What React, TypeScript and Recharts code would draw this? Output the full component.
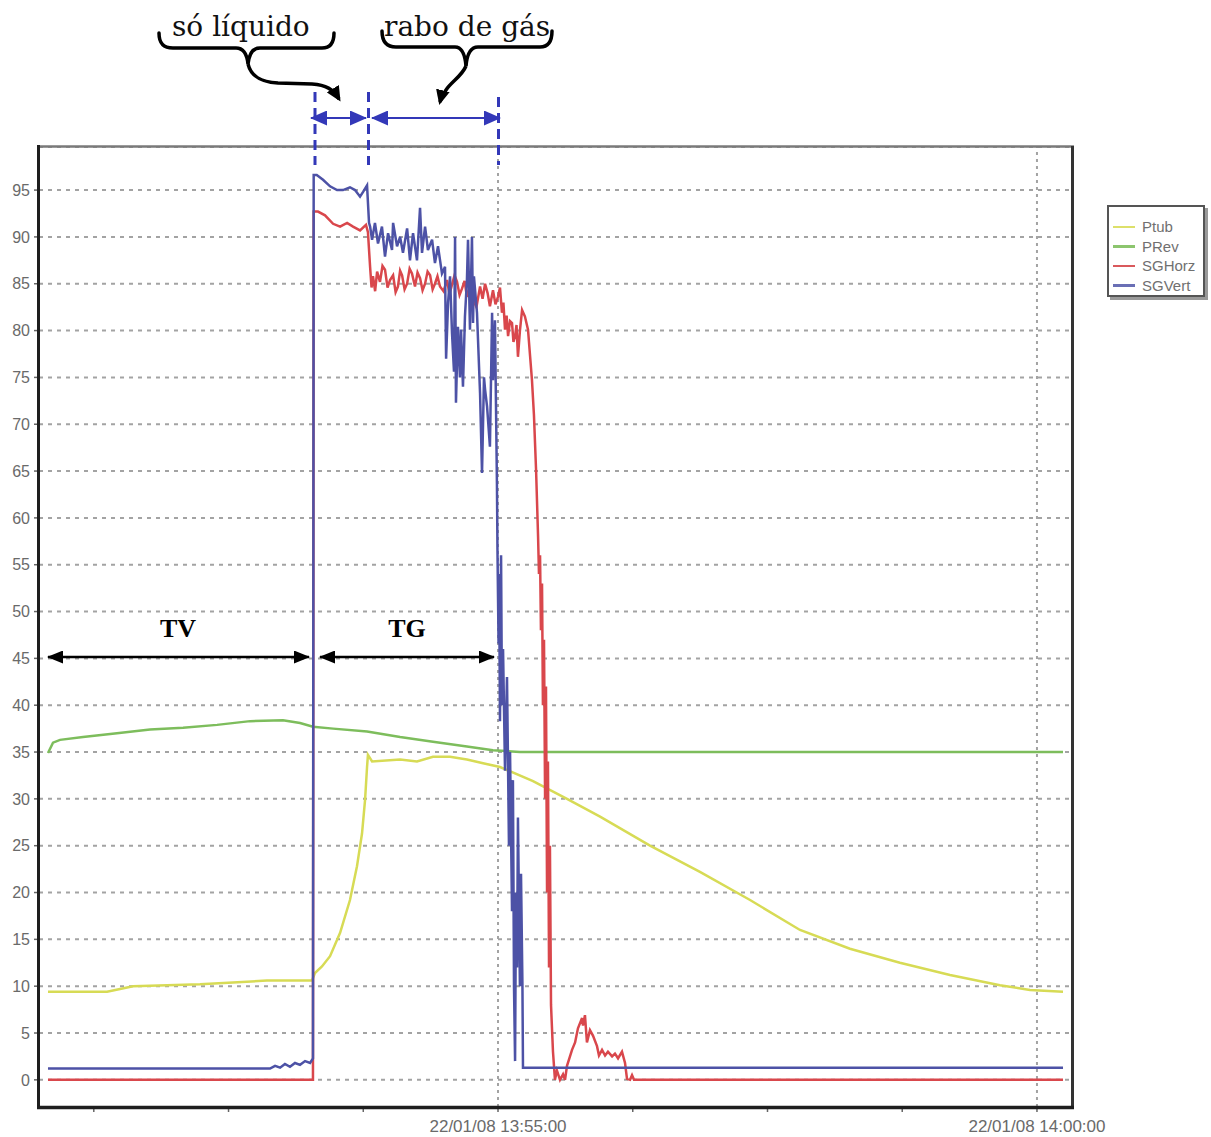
import React from "react";
import { CartesianGrid, Legend, Line, LineChart, ReferenceLine, XAxis, YAxis } from "recharts";

// time in seconds relative to 22/01/08 13:55:00
const ptub: [number, number][] = [
  [-250.5, 9.4], [-217.6, 9.4], [-210.4, 9.7], [-203.2, 10.0], [-184.2, 10.1], [-165.9, 10.2],
  [-147.5, 10.4], [-128.6, 10.6], [-103.5, 10.6], [-101.9, 11.4], [-98, 12.1], [-93.5, 13.2],
  [-87.9, 15.7], [-82.4, 19.2], [-78.5, 22.8], [-75.7, 26.3], [-74, 29.9], [-72.9, 33.4],
  [-72.4, 34.7], [-70.1, 34.0], [-54.5, 34.2], [-45.1, 34.0], [-36.2, 34.5], [-26.7, 34.5],
  [-17.3, 34.2], [-8.3, 33.8], [1.1, 33.4], [19.5, 31.9], [38.4, 30.0], [56.8, 28.1],
  [84.6, 25.0], [112.4, 22.2], [140.3, 19.2], [168.1, 16.0], [195.9, 14.0], [223.7, 12.5],
  [251.6, 11.2], [279.4, 10.1], [296.1, 9.6], [314.5, 9.4],
];

const prev: [number, number][] = [
  [-250.5, 34.9], [-247.7, 36.0], [-243.8, 36.3], [-231, 36.6], [-212.1, 37.0], [-193.7, 37.4],
  [-175.3, 37.6], [-156.4, 37.9], [-138, 38.3], [-119.7, 38.4], [-110.2, 38.1], [-103, 37.7],
  [-91.8, 37.5], [-72.9, 37.2], [-54.5, 36.6], [-36.2, 36.1], [-17.3, 35.6], [-2.8, 35.2],
  [12.2, 35.0], [314.5, 35.0],
];

const sgHorz: [number, number][] = [
  [-250.5, 0], [-103.0, 0], [-102.6, 92.7], [-100.2, 92.7], [-96.3, 92.3], [-91.8, 91.4],
  [-87.9, 91.1], [-84.0, 91.5], [-80.7, 91.1], [-76.8, 90.7], [-73.5, 91.3], [-72.4, 90.5],
  [-71.2, 86.8], [-70.4, 84.6], [-69.6, 85.8], [-68.4, 84.2], [-67.3, 86.3], [-65.7, 85.2],
  [-64.3, 86.9], [-62.9, 86.5], [-61.5, 84.6], [-60.1, 85.4], [-58.4, 85.9], [-57.0, 84.1],
  [-55.7, 84.7], [-54.5, 86.4], [-53.4, 85.9], [-52.0, 84.4], [-50.6, 85.0], [-49.2, 86.6],
  [-47.9, 86.1], [-46.2, 84.7], [-44.8, 86.2], [-43.4, 85.6], [-42.0, 84.3], [-40.6, 85.0],
  [-39.2, 86.3], [-37.8, 85.9], [-36.4, 84.4], [-35.1, 85.0], [-33.7, 85.8], [-32.3, 84.7],
  [-30.3, 84.2], [-28.4, 85.4], [-27.0, 83.9], [-25.6, 84.9], [-24.2, 85.9], [-22.8, 85.2],
  [-21.4, 83.8], [-20.0, 84.5], [-18.6, 85.3], [-17.3, 83.6], [-15.6, 84.8], [-13.9, 83.3],
  [-12.0, 82.5], [-10.0, 84.7], [-8.6, 83.4], [-7.2, 85.0], [-5.8, 84.0], [-4.5, 82.6],
  [-2.8, 84.3], [-1.4, 82.8], [0.0, 83.6], [1.1, 84.6], [2.2, 81.9], [3.0, 83.0],
  [3.9, 80.1], [4.8, 81.6], [5.6, 79.4], [6.7, 81.0], [7.8, 80.8], [8.6, 78.8],
  [9.5, 79.4], [10.3, 80.6], [11.1, 77.2], [12.2, 80.0], [13.4, 82.2], [15.0, 81.5],
  [16.7, 80.1], [18.9, 74.7], [20.0, 71], [21.2, 65], [22.3, 58], [22.8, 54],
  [23.4, 56], [23.9, 48], [24.5, 53], [25.0, 40], [25.6, 47], [26.2, 30],
  [26.7, 42], [27.3, 20], [27.8, 34], [28.4, 12], [28.9, 25], [29.5, 8],
  [30.6, 3], [31.7, 0], [32.8, 1.0], [34.5, 0], [36.2, 0.6], [37.3, 0],
  [38.4, 1.5], [41.2, 3.2], [42.9, 4.0], [44.5, 5.5], [46.8, 6.6], [47.3, 5.8],
  [48.4, 6.9], [49.5, 4.0], [51.2, 5.3], [52.9, 4.7], [55.1, 3.6], [56.2, 2.6],
  [57.9, 3.2], [59.6, 2.6], [61.2, 3.0], [63.5, 2.5], [65.1, 2.8], [66.8, 2.3],
  [69.0, 3.0], [70.7, 1.8], [71.8, 0.1], [73.5, 0], [74.6, 0.5], [75.7, 0], [314.5, 0],
];

const sgVert: [number, number][] = [
  [-250.5, 1.2], [-126.9, 1.2], [-124.1, 1.5], [-121.3, 1.3], [-118.6, 1.7], [-115.8, 1.4],
  [-113, 1.8], [-110.2, 1.6], [-107.4, 2.0], [-104.6, 1.8], [-103.0, 2.3], [-102.6, 96.6],
  [-100.9, 96.6], [-97.4, 96.1], [-93.5, 95.4], [-89.6, 95.0], [-86.3, 95.0], [-82.4, 95.3],
  [-79.6, 95.0], [-76.8, 94.3], [-75.1, 94.8], [-72.9, 95.5], [-71.8, 91.5], [-71.2, 91.1],
  [-70.1, 89.7], [-68.5, 91.5], [-66.8, 89.3], [-64.6, 91.1], [-62.9, 87.9], [-61.2, 90.4],
  [-59, 88.6], [-58.4, 91.5], [-56.2, 89.0], [-54.5, 90.0], [-52.9, 88.3], [-50.6, 90.9],
  [-49, 87.5], [-47.3, 90.4], [-45.1, 87.5], [-43.4, 93.1], [-42.3, 88.3], [-40.6, 91.1],
  [-39, 88.6], [-36.7, 89.7], [-35.1, 87.2], [-33.4, 89.0], [-31.2, 86.1], [-29.5, 86.8],
  [-28.9, 77.0], [-27.8, 83.0], [-26.7, 85.8], [-25.6, 79.7], [-24.5, 75.6], [-23.9, 90.0],
  [-23.4, 72.3], [-22.3, 80.4], [-21.2, 75.0], [-20.6, 80.1], [-19.5, 74.0], [-18.4, 81.5],
  [-17.3, 85.4], [-16.7, 89.7], [-15.6, 80.1], [-14.5, 90.0], [-13.9, 80.8], [-13.4, 85.8],
  [-11.7, 81.9], [-10, 73.3], [-8.9, 64.8], [-7.8, 75], [-7.2, 73.7], [-6.1, 71.9],
  [-4.5, 67.6], [-3.3, 81.9], [-2.8, 74.7], [-1.7, 81.1], [-0.6, 63.7], [-0.3, 56.6],
  [0.3, 46.6], [0.6, 54], [1.1, 38.3], [1.7, 56], [2.2, 40], [2.8, 46],
  [3.9, 33], [5, 43], [6.1, 25], [6.7, 35], [7.8, 18], [8.3, 32],
  [8.9, 10], [9.5, 2.0], [10, 20], [10.6, 12], [11.1, 28], [12.2, 10],
  [12.8, 22], [13.6, 10], [13.9, 1.3], [314.5, 1.3],
];

const seriesNames = ["Ptub", "PRev", "SGHorz", "SGVert"];
const seriesColors = ["#d7db55", "#7dbd5c", "#d9474c", "#4d52a6"];
const legendColors = ["#dde06a", "#8cc56e", "#d9595c", "#6a6fb5"];

const xTicks = [-225, -150, -75, 0, 75, 150, 225, 300];
const xTickLabels: Record<number, string> = { 0: "22/01/08 13:55:00", 300: "22/01/08 14:00:00" };
const yTicks = [0, 5, 10, 15, 20, 25, 30, 35, 40, 45, 50, 55, 60, 65, 70, 75, 80, 85, 90, 95];

const toRows = (pts: [number, number][]) => pts.map(([t, v]) => ({ t, v }));
const seriesData = [ptub, prev, sgHorz, sgVert].map(toRows);

const SANS = "'Liberation Sans', Arial, sans-serif";
const SERIF = "'DejaVu Serif', 'Liberation Serif', serif";

function LegendBox() {
  return (
    <div
      style={{
        width: 98,
        height: 92,
        border: "2px solid #555",
        boxShadow: "3px 3px 0 #9a9a9a",
        background: "#fff",
        padding: "10px 0 0 4px",
        boxSizing: "border-box",
        fontFamily: SANS,
        fontSize: 15,
        color: "#707070",
      }}
    >
      {seriesNames.map((name, i) => (
        <div key={name} style={{ display: "flex", alignItems: "center", height: 19.5 }}>
          <span style={{ display: "inline-block", width: 22, height: 2.5, background: legendColors[i], marginRight: 7 }} />
          <span style={{ lineHeight: "19px" }}>{name}</span>
        </div>
      ))}
    </div>
  );
}

function Annotations() {
  const blue = "#3338b8";
  return (
    <svg width={1211} height={1137} style={{ position: "absolute", left: 0, top: 0, pointerEvents: "none" }}>
      <defs>
        <marker id="bh" markerWidth={17} markerHeight={15} refX={16} refY={7.5} orient="auto-start-reverse" markerUnits="userSpaceOnUse">
          <path d="M0,0 L17,7.5 L0,15 z" fill={blue} />
        </marker>
        <marker id="kh" markerWidth={16} markerHeight={13} refX={15} refY={6.5} orient="auto-start-reverse" markerUnits="userSpaceOnUse">
          <path d="M0,0 L16,6.5 L0,13 z" fill="#000" />
        </marker>
        <marker id="ch" markerWidth={15} markerHeight={14} refX={12} refY={7} orient="auto" markerUnits="userSpaceOnUse">
          <path d="M0,0 L15,7 L0,14 z" fill="#000" />
        </marker>
      </defs>

      {/* frame */}
      <line x1={38} y1={146.5} x2={1074} y2={146.5} stroke="#7a7a7a" strokeWidth={2.5} />
      <line x1={1072.5} y1={146} x2={1072.5} y2={1109} stroke="#333" strokeWidth={3} />
      <line x1={38.5} y1={145} x2={38.5} y2={1109} stroke="#1e1e1e" strokeWidth={3} />
      <line x1={37} y1={1107.5} x2={1074} y2={1107.5} stroke="#1e1e1e" strokeWidth={3.5} />

      {/* dashed limits */}
      {[315, 368.5, 498.5].map((x, i) => (
        <line key={x} x1={x} y1={i === 2 ? 97 : 92} x2={x} y2={165} stroke={blue} strokeWidth={3} strokeDasharray="10 6" />
      ))}
      <line x1={311} y1={118} x2={366} y2={118} stroke={blue} strokeWidth={2} markerStart="url(#bh)" markerEnd="url(#bh)" />
      <line x1={372} y1={118} x2={500} y2={118} stroke={blue} strokeWidth={2} markerStart="url(#bh)" markerEnd="url(#bh)" />

      {/* braces */}
      <text x={172} y={36} fontFamily={SERIF} fontSize={28} fill="#111">só líquido</text>
      <text x={384} y={36} fontFamily={SERIF} fontSize={28} fill="#111">rabo de gás</text>
      <path
        d="M159,33 C159,43 163,48 173,48 L236,48 C244,48 247,54 248,64 C249,54 252,48 260,48 L322,48 C330,48 334,43 334,33"
        fill="none" stroke="#000" strokeWidth={3.5} strokeLinecap="round"
      />
      <path d="M248,64 C251,76 260,82 278,83 L312,84 C326,85 333,89 339,99" fill="none" stroke="#000" strokeWidth={3.5} markerEnd="url(#ch)" />
      <path
        d="M382,31 C382,41 386,47 396,47 L455,47 C462,47 465,54 466,66 C467,54 470,47 478,47 L540,47 C548,47 552,41 552,31"
        fill="none" stroke="#000" strokeWidth={3.5} strokeLinecap="round"
      />
      <path d="M466,66 C462,76 451,82 446,90 C443,95 441,98 440,102" fill="none" stroke="#000" strokeWidth={3.5} markerEnd="url(#ch)" />

      {/* TV / TG */}
      <line x1={48} y1={657} x2={309} y2={657} stroke="#000" strokeWidth={2.5} markerStart="url(#kh)" markerEnd="url(#kh)" />
      <line x1={320} y1={657} x2={494} y2={657} stroke="#000" strokeWidth={2.5} markerStart="url(#kh)" markerEnd="url(#kh)" />
      <text x={178} y={637} textAnchor="middle" fontFamily="'Liberation Serif', serif" fontWeight="bold" fontSize={26} fill="#000">TV</text>
      <text x={407} y={637} textAnchor="middle" fontFamily="'Liberation Serif', serif" fontWeight="bold" fontSize={26} fill="#000">TG</text>
    </svg>
  );
}

export default function App() {
  return (
    <div style={{ position: "absolute", left: 0, top: 0, width: 1211, height: 1137, background: "#fff" }}>
      <LineChart width={1211} height={1137} margin={{ top: 147, right: 139, bottom: 2, left: 9 }}>
        <CartesianGrid vertical={false} stroke="#a3a3a3" strokeWidth={2} strokeDasharray="4 5" />
        <XAxis
          dataKey="t"
          type="number"
          domain={[-255.5, 319.5]}
          ticks={xTicks}
          allowDataOverflow
          height={28}
          axisLine={false}
          tickSize={5}
          tickMargin={8}
          tickLine={{ stroke: "#666", strokeWidth: 1.5 }}
          tickFormatter={(t: number) => xTickLabels[t] ?? ""}
          tick={{ fill: "#6a6a6a", fontSize: 17, fontFamily: SANS }}
          interval={0}
        />
        <YAxis
          type="number"
          domain={[-2.9, 99.6]}
          ticks={yTicks}
          allowDataOverflow
          width={30}
          axisLine={false}
          tickSize={5}
          tickMargin={4}
          tickLine={{ stroke: "#666", strokeWidth: 1.5 }}
          tick={{ fill: "#6a6a6a", fontSize: 16, fontFamily: SANS }}
          interval={0}
        />
        <ReferenceLine x={0} stroke="#a3a3a3" strokeWidth={2} strokeDasharray="3 4" />
        <ReferenceLine x={300} stroke="#a3a3a3" strokeWidth={2} strokeDasharray="3 4" />
        {seriesData.map((rows, i) => (
          <Line
            key={seriesNames[i]}
            data={rows}
            dataKey="v"
            name={seriesNames[i]}
            type="linear"
            stroke={seriesColors[i]}
            strokeWidth={2.5}
            dot={false}
            activeDot={false}
            isAnimationActive={false}
          />
        ))}
        <Legend
          layout="vertical"
          align="center"
          verticalAlign="middle"
          wrapperStyle={{ left: 1107, top: 205, width: 98, height: 93 }}
          content={() => <LegendBox />}
        />
      </LineChart>
      <Annotations />
    </div>
  );
}
